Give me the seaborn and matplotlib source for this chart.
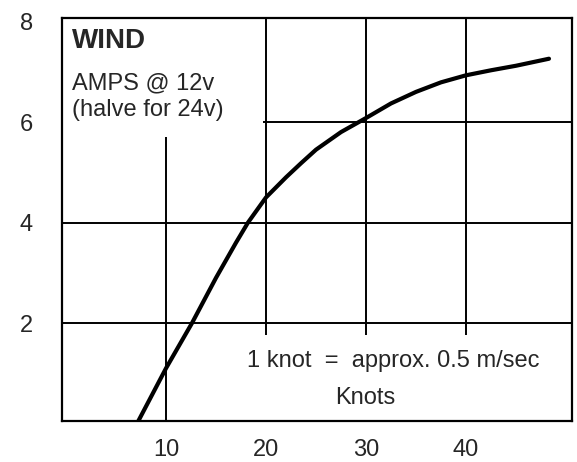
import matplotlib
matplotlib.use("Agg")
import matplotlib.pyplot as plt
import seaborn as sns
import pandas as pd

# wind generator output curve
knots = [7.1, 10, 12.6, 15, 17, 18.2, 20, 22, 23.5, 25, 27.5, 30, 32.5,
         35, 37.5, 40, 42.5, 45, 48.3]
amps = [0, 1.1, 2.0, 2.9, 3.6, 4.0, 4.5, 4.9, 5.18, 5.45, 5.8, 6.08, 6.37,
        6.6, 6.79, 6.93, 7.03, 7.12, 7.26]

x_ticks = [10, 20, 30, 40]
y_ticks = [2, 4, 6, 8]

df = pd.DataFrame({"Knots": knots, "Amps": amps})

sns.set_style("white")
plt.rcParams["font.family"] = ["Liberation Sans", "DejaVu Sans"]

fig = plt.figure(figsize=(5.77, 4.62), dpi=100)
ax = fig.add_axes([0.1075, 0.0887, 0.8838, 0.8723])

x_min, x_max = -0.4, 50.6
y_min, y_max = 0.05, 8.07

# partial grid lines (the text panels interrupt them in the original)
ax.vlines(10, y_min, 5.7, color="black", lw=1.4)
ax.vlines(x_ticks[1:], 1.76, y_max, color="black", lw=1.4)
ax.hlines(6, 19.7, x_max, color="black", lw=1.4)
ax.hlines([2, 4], x_min, x_max, color="black", lw=1.4)

sns.lineplot(data=df, x="Knots", y="Amps", color="black", lw=3.0, ax=ax)

ax.set_xlim(x_min, x_max)
ax.set_ylim(y_min, y_max)
ax.set_xticks(x_ticks)
ax.set_yticks(y_ticks)
ax.tick_params(axis="x", length=0, pad=13, labelsize=17)
ax.tick_params(axis="y", length=0, pad=21, labelsize=17)
ax.set_xlabel("")
ax.set_ylabel("")
for s in ax.spines.values():
    s.set_color("black")
    s.set_linewidth(1.6)

ax.text(0.02, 0.975, "WIND", transform=ax.transAxes, fontsize=20,
        fontweight="bold", va="top", ha="left")
ax.text(0.02, 0.865, "AMPS @ 12v", transform=ax.transAxes, fontsize=17,
        va="top", ha="left")
ax.text(0.02, 0.798, "(halve for 24v)", transform=ax.transAxes, fontsize=17,
        va="top", ha="left")
ax.text(0.649, 0.149, "1 knot  =  approx. 0.5 m/sec", transform=ax.transAxes,
        fontsize=17, va="center", ha="center")
ax.text(0.594, 0.057, "Knots", transform=ax.transAxes, fontsize=17,
        va="center", ha="center")

fig.savefig("out.png", dpi=100, facecolor="white")
